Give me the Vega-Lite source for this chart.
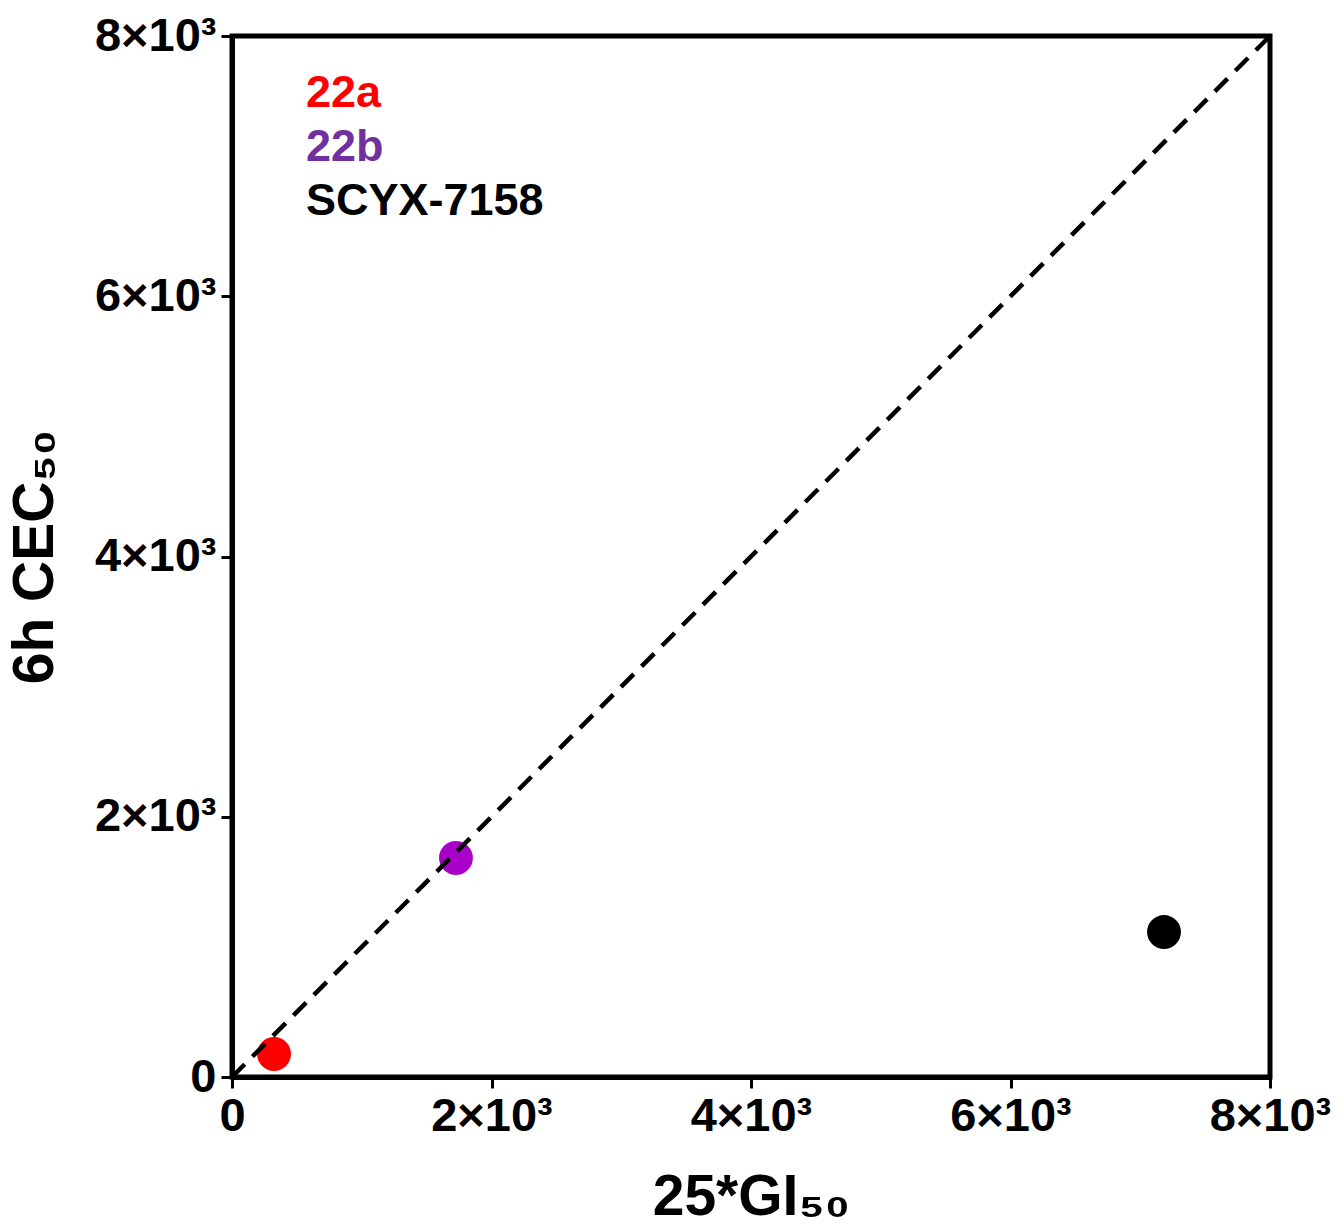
{
  "$schema": "https://vega.github.io/schema/vega-lite/v6.json",
  "autosize": "none",
  "width": 1038,
  "height": 1041,
  "padding": {"left": 232, "top": 36, "right": 70, "bottom": 151},
  "background": "white",
  "config": {
    "view": {"stroke": "black", "strokeWidth": 5},
    "font": "Liberation Sans",
    "axis": {
      "grid": false,
      "domainColor": "black",
      "domainWidth": 5,
      "tickColor": "black",
      "tickWidth": 3,
      "tickSize": 11,
      "labelFont": "Liberation Sans",
      "labelFontWeight": "bold",
      "labelFontSize": 47,
      "labelColor": "black",
      "labelPadding": 5,
      "titleFont": "Liberation Sans",
      "titleFontWeight": "bold",
      "titleFontSize": 57,
      "titleColor": "black"
    }
  },
  "datasets": {
    "points": [
      {"compound": "22a", "gi": 324, "cec": 177},
      {"compound": "22b", "gi": 1726, "cec": 1683},
      {"compound": "SCYX-7158", "gi": 7183, "cec": 1114}
    ],
    "identity": [
      {"gi": 0, "cec": 0},
      {"gi": 8000, "cec": 8000}
    ]
  },
  "layer": [
    {
      "data": {"name": "points"},
      "mark": {"type": "point", "filled": true, "shape": "circle", "opacity": 1, "size": 1150},
      "encoding": {
        "x": {
          "field": "gi", "type": "quantitative",
          "scale": {"domain": [0, 8000], "nice": false},
          "axis": {
            "values": [0, 2000, 4000, 6000, 8000],
            "labelExpr": "datum.value == 0 ? '0' : (datum.value / 1000) + '×10³'",
            "title": "25*GI₅₀",
            "titlePadding": 30,
            "labelFlush": false
          }
        },
        "y": {
          "field": "cec", "type": "quantitative",
          "scale": {"domain": [0, 8000], "nice": false},
          "axis": {
            "values": [0, 2000, 4000, 6000, 8000],
            "labelExpr": "datum.value == 0 ? '0' : (datum.value / 1000) + '×10³'",
            "title": "6h CEC₅₀",
            "titlePadding": 30,
            "labelFlush": false
          }
        },
        "color": {
          "field": "compound", "type": "nominal",
          "scale": {"domain": ["22a", "22b", "SCYX-7158"], "range": ["#ff0000", "#a800c8", "#000000"]},
          "legend": {
            "title": null,
            "orient": "none",
            "legendX": 29,
            "legendY": 34,
            "symbolSize": 0,
            "symbolStrokeWidth": 0,
            "symbolOpacity": 0,
            "labelOffset": 0,
            "labelLimit": 600,
            "labelFont": "Liberation Sans",
            "labelFontWeight": "bold",
            "labelFontSize": 45,
            "rowPadding": 8,
            "encode": {
              "labels": {
                "update": {
                  "fill": {"signal": "datum.value == '22a' ? '#ff0000' : datum.value == '22b' ? '#7030a0' : '#000000'"}
                }
              }
            }
          }
        }
      }
    },
    {
      "data": {"name": "identity"},
      "mark": {"type": "line", "color": "black", "strokeWidth": 4.5, "strokeDash": [18, 11]},
      "encoding": {
        "x": {"field": "gi", "type": "quantitative"},
        "y": {"field": "cec", "type": "quantitative"}
      }
    }
  ]
}
